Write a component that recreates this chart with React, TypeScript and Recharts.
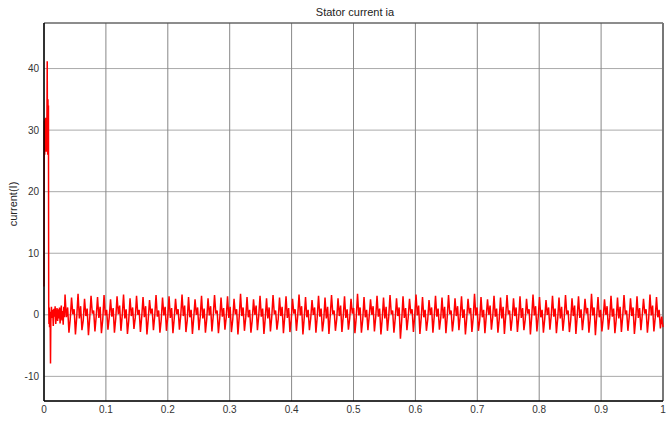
import { LineChart, Line, XAxis, YAxis, CartesianGrid, ReferenceLine } from 'recharts'

// start-up transient (time in s, current in A)
const transientTime = [
  0, 0.0004, 0.0008, 0.0012, 0.0016, 0.002, 0.0024, 0.0028, 0.0032, 0.0036, 0.004, 0.0044, 0.0048,
  0.0052, 0.0056, 0.006, 0.0064, 0.0068, 0.0072, 0.0076, 0.008, 0.0085, 0.009, 0.0095, 0.01, 0.0105,
]
const transientCurrent = [
  4.6, 29, 31.5, 26, 31.8, 27.5, 32, 28, 31, 26.5, 30, 27, 33,
  41.2, 30, 26, 35, 28, 34, 2, -1.5, 1.2, -2, 0.5, -1, -7.9,
]

// low ripple after the transient, sampled every 1 ms from 0.011 s
const NOISE_T0 = 0.011
const NOISE_DT = 0.001
const noiseCurrent = [
  -1.2, 1.3, -0.5, 0.8, -1.8, 1.0, -0.3, 1.4, -1.5, 0.2, 1.1, -1.0, 0.9, -0.6, 1.2, -1.4, 0.4, 1.5, -0.9,
  0.6, -1.6, 1.3, -0.4,
]

// steady state, sampled every 2.1 ms from 0.034 s (5 samples a cycle)
const STEADY_T0 = 0.034
const STEADY_DT = 0.0021
const steadyCurrent = [
  3.3, -0.4, 1.2, -2.9, -0.7, 2.8, 0.1, 0.9, -3.2, -0.3, 3.4, -0.6, 1.4, -2.5, -0.9, 2.6, -0.2, 1.0, -3.3, -0.5,
  3.1, 0.2, 0.7, -2.7, -0.2, 2.9, -0.5, 1.3, -3.0, -0.8, 3.2, -0.1, 0.8, -2.4, -0.4, 2.5, -0.3, 1.1, -2.9, -0.6,
  3.0, 0.1, 1.5, -2.6, -0.1, 3.3, -0.6, 0.9, -3.1, -0.9, 2.7, -0.2, 1.2, -2.3, -0.5, 3.1, 0.0, 0.8, -2.8, -0.3,
  2.9, -0.4, 1.4, -3.2, -0.7, 2.4, 0.2, 1.0, -2.5, -0.2, 3.2, -0.3, 0.7, -2.9, -0.8, 2.8, -0.1, 1.3, -2.6, -0.4,
  3.0, -0.5, 1.1, -3.0, -0.6, 2.6, 0.1, 0.9, -2.4, -0.1, 3.3, -0.2, 1.5, -2.8, -0.9, 2.9, -0.4, 0.8, -3.1, -0.5,
  2.5, 0.0, 1.2, -2.5, -0.3, 3.1, -0.6, 1.0, -2.9, -0.7, 2.7, -0.1, 1.4, -2.7, -0.2, 3.2, 0.2, 0.7, -3.0, -0.6,
  2.8, -0.3, 1.1, -2.4, -0.4, 3.0, -0.5, 1.3, -2.8, -0.8, 2.6, 0.1, 0.9, -3.2, -0.3, 3.4, -0.2, 1.2, -2.6, -0.5,
  2.9, -0.4, 0.8, -2.9, -0.9, 2.5, 0.0, 1.5, -2.5, -0.2, 3.1, -0.3, 1.0, -3.1, -0.6, 2.7, -0.6, 1.2, -2.7, -0.4,
  3.2, 0.1, 0.7, -2.4, -0.7, 2.8, -0.2, 1.3, -3.0, -0.3, 3.0, -0.5, 1.1, -2.8, -0.8, 2.6, 0.2, 0.9, -2.6, -0.1,
  3.3, -0.1, 1.4, -3.2, -0.5, 2.9, -0.4, 0.8, -2.5, -0.6, 2.4, 0.0, 1.2, -2.9, -0.4, 3.1, -0.3, 1.0, -2.7, -0.9,
  2.8, -0.6, 1.3, -3.1, -0.2, 3.2, 0.1, 0.7, -2.6, -0.7, 2.7, -0.2, 1.5, -2.8, -0.3, 3.0, -0.5, 0.9, -2.4, -0.6,
  2.6, 0.2, 1.1, -3.0, -0.5, 3.4, -0.1, 1.2, -2.9, -0.8, 2.9, -0.4, 0.8, -2.5, -0.2, 2.5, 0.0, 1.4, -2.7, -0.4,
  3.1, -0.3, 1.0, -3.2, -0.7, 2.8, -0.6, 1.3, -2.6, -0.3, 3.2, 0.1, 0.7, -2.9, -0.6, 2.7, -0.2, 1.2, -3.9, -0.9,
  3.0, -0.5, 1.1, -2.5, -0.4, 2.6, 0.2, 0.9, -2.8, -0.2, 3.3, -0.1, 1.5, -3.1, -0.5, 2.9, -0.4, 0.8, -2.6, -0.8,
  2.4, 0.0, 1.2, -2.9, -0.3, 3.1, -0.3, 1.0, -2.4, -0.6, 2.8, -0.6, 1.3, -3.0, -0.4, 3.2, 0.1, 0.7, -2.7, -0.7,
  2.7, -0.2, 1.4, -2.5, -0.2, 3.0, -0.5, 0.9, -3.2, -0.6, 2.6, 0.2, 1.1, -2.8, -0.5, 3.4, -0.1, 1.2, -2.6, -0.9,
  2.9, -0.4, 0.8, -3.0, -0.3, 2.5, 0.0, 1.5, -2.4, -0.4, 3.1, -0.3, 1.0, -2.9, -0.7, 2.8, -0.6, 1.3, -3.1, -0.2,
  3.2, 0.1, 0.7, -2.6, -0.6, 2.7, -0.2, 1.2, -2.8, -0.5, 3.0, -0.5, 1.1, -2.5, -0.8, 2.6, 0.2, 0.9, -3.2, -0.3,
  3.3, -0.1, 1.4, -2.7, -0.4, 2.9, -0.4, 0.8, -2.9, -0.7, 2.4, 0.0, 1.2, -2.4, -0.2, 3.1, -0.3, 1.0, -3.0, -0.6,
  2.8, -0.6, 1.3, -2.6, -0.5, 3.2, 0.1, 0.7, -2.8, -0.9, 2.7, -0.2, 1.5, -3.1, -0.3, 3.0, -0.5, 0.9, -2.5, -0.4,
  2.6, 0.2, 1.1, -2.9, -0.7, 3.4, -0.1, 1.2, -3.3, -0.2, 2.9, -0.4, 0.8, -2.7, -0.6, 2.5, 0.0, 1.4, -2.4, -0.5,
  3.1, -0.3, 1.0, -3.0, -0.8, 2.8, -0.6, 1.3, -2.8, -0.3, 3.2, 0.1, 0.7, -2.6, -0.4, 2.7, -0.2, 1.2, -3.1, -0.7,
  3.0, -0.5, 1.1, -2.5, -0.2, 2.6, 0.2, 0.9, -2.9, -0.6, 3.3, -0.1, 1.5, -2.7, -0.5, 2.9, -0.4, 0.8, -2.2, -0.3,
]
const END_TIME = 1
const endCurrent = -2.0

const xTicks = [0, 0.1, 0.2, 0.3, 0.4, 0.5, 0.6, 0.7, 0.8, 0.9, 1]
const yTicks = [-10, 0, 10, 20, 30, 40]
const Y_MIN = -14
const Y_MAX = 47.4

const data = [
  ...transientTime.map((t, i) => ({ t, ia: transientCurrent[i] })),
  ...noiseCurrent.map((v, i) => ({ t: NOISE_T0 + i * NOISE_DT, ia: v })),
  ...steadyCurrent.map((v, i) => ({ t: STEADY_T0 + i * STEADY_DT, ia: v })),
  { t: END_TIME, ia: endCurrent },
]

const font = '"Liberation Sans", Arial, sans-serif'
const tickStyle = { fontSize: 10, fill: '#333', fontFamily: font }

export default function App() {
  return (
    <div style={{ position: 'absolute', left: 0, top: 0, width: 669, height: 423, background: '#fff' }}>
      <div
        style={{
          position: 'absolute',
          left: 0,
          width: 710,
          top: 6,
          textAlign: 'center',
          fontSize: 11,
          fontFamily: font,
          color: '#222',
        }}
      >
        Stator current ia
      </div>
      <div
        style={{
          position: 'absolute',
          left: 13,
          top: 204,
          transform: 'translate(-50%, -50%) rotate(-90deg)',
          fontSize: 11,
          fontFamily: font,
          color: '#222',
          whiteSpace: 'nowrap',
        }}
      >
        current(I)
      </div>
      <LineChart width={669} height={423} data={data} margin={{ top: 23, right: 6, bottom: 0, left: 0 }}>
        <CartesianGrid horizontal={true} vertical={false} stroke="#aaa" />
        <CartesianGrid horizontal={false} vertical={true} stroke="#888" />
        <XAxis
          dataKey="t"
          type="number"
          domain={[0, 1]}
          ticks={xTicks}
          height={22}
          tickLine={false}
          tickSize={3}
          tick={tickStyle}
          axisLine={{ stroke: '#000', strokeWidth: 1.5 }}
        />
        <YAxis
          type="number"
          domain={[Y_MIN, Y_MAX]}
          ticks={yTicks}
          width={44}
          allowDataOverflow
          tickLine={false}
          tickSize={3}
          tick={tickStyle}
          axisLine={{ stroke: '#000', strokeWidth: 1.5 }}
        />
        <ReferenceLine y={Y_MAX} stroke="#444" />
        <ReferenceLine x={1} stroke="#777" strokeWidth={2} />
        <Line
          type="linear"
          dataKey="ia"
          stroke="#ff0000"
          strokeWidth={1.5}
          dot={false}
          isAnimationActive={false}
        />
      </LineChart>
    </div>
  )
}
